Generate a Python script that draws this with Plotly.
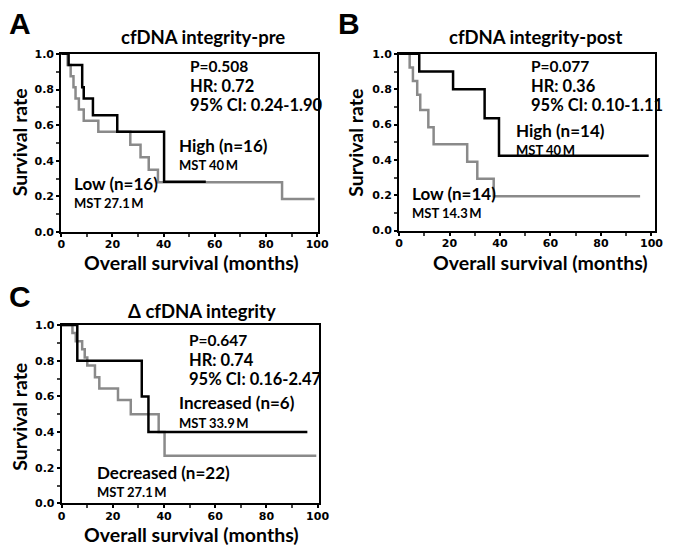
import plotly.graph_objects as go

W, H = 677, 556

# Kaplan-Meier step data (months, survival rate)
a_high_t = [0, 2.9, 8.2, 8.8, 12.4, 21.9, 40.2, 56.5]
a_high_s = [1.0, 0.9375, 0.8125, 0.75, 0.656, 0.563, 0.282, 0.282]
a_low_t = [0, 2.5, 3.7, 4.8, 5.6, 6.9, 8.8, 14.5, 27.0, 31.0, 34.2, 37.8, 86.3, 99.0]
a_low_s = [1.0, 0.9375, 0.875, 0.8125, 0.75, 0.6875, 0.625, 0.5625, 0.49, 0.42, 0.35, 0.28, 0.185, 0.185]

b_high_t = [0, 8.0, 21.4, 33.9, 39.6, 98.9]
b_high_s = [1.0, 0.9, 0.8, 0.635, 0.424, 0.424]
b_low_t = [0, 4.2, 5.5, 7.2, 8.4, 11.6, 13.7, 27.0, 31.0, 37.5, 95.5]
b_low_s = [1.0, 0.923, 0.846, 0.769, 0.683, 0.585, 0.488, 0.39, 0.293, 0.195, 0.195]

c_inc_t = [0, 6.1, 31.3, 33.9, 96.0]
c_inc_s = [1.0, 0.8, 0.6, 0.4, 0.4]
c_dec_t = [0, 4.2, 5.5, 8.0, 9.0, 10.0, 13.0, 14.7, 22.0, 27.0, 37.9, 40.2, 99.5]
c_dec_s = [1.0, 0.955, 0.909, 0.864, 0.818, 0.773, 0.708, 0.644, 0.58, 0.5, 0.4, 0.267, 0.267]

x_ticks = [0, 20, 40, 60, 80, 100]
y_ticks = [0.0, 0.2, 0.4, 0.6, 0.8, 1.0]

BLACK = "#000000"
GRAY = "#8a8a8a"
TITLE_FONT = "Lato"
TICK_FONT = "DejaVu Sans"


def px(x):
    return x / W


def py(y):
    return 1 - y / H


fig = go.Figure()

# plot areas in pixels: (left, right, top, bottom, x max)
panels = [
    ("x", "y", (58.5, 321, 49, 231.5, 100.3), [(a_high_t, a_high_s, BLACK), (a_low_t, a_low_s, GRAY)]),
    ("x2", "y2", (404, 666, 49, 230, 101.5), [(b_high_t, b_high_s, BLACK), (b_low_t, b_low_s, GRAY)]),
    ("x3", "y3", (59, 322, 326.7, 509.3, 100.5), [(c_inc_t, c_inc_s, BLACK), (c_dec_t, c_dec_s, GRAY)]),
]

layout = {}
for i, (xa, ya, (l, r, t, b, xmax), curves) in enumerate(panels):
    # grey first so black sits on top
    for tt, ss, col in reversed(curves):
        fig.add_trace(go.Scatter(x=tt, y=ss, xaxis=xa, yaxis=ya, mode="lines",
                                 line=dict(color=col, width=2.5, shape="hv"),
                                 showlegend=False, hoverinfo="skip"))
    sfx = "" if i == 0 else str(i + 1)
    layout["xaxis" + sfx] = dict(
        domain=[px(l), px(r)], range=[0, xmax], anchor=ya,
        tickvals=x_ticks, ticks="outside", ticklen=3, tickwidth=1.5, tickcolor=BLACK,
        ticklabelstandoff=-2,
        minor=dict(dtick=10, ticks="outside", ticklen=3, tickcolor="#444"),
        showline=True, linecolor=BLACK, linewidth=2, mirror=True,
        showgrid=False, zeroline=False,
        tickfont=dict(family=TICK_FONT, size=11, color=BLACK, weight="bold"),
    )
    layout["yaxis" + sfx] = dict(
        domain=[py(b), py(t)], range=[0, 1.0], anchor=xa,
        tickvals=y_ticks, tickformat=".1f", ticks="outside", ticklen=3, tickwidth=1.5,
        tickcolor=BLACK,
        minor=dict(dtick=0.1, ticks="outside", ticklen=3, tickcolor="#444"),
        showline=True, linecolor=BLACK, linewidth=2, mirror=True,
        showgrid=False, zeroline=False,
        tickfont=dict(family=TICK_FONT, size=11, color=BLACK, weight="bold"),
    )

fig.update_layout(**layout)


def note(text, x, y, size, family=TITLE_FONT, xanchor="left", angle=0):
    fig.add_annotation(text="<b>%s</b>" % text,
                       x=px(x), y=py(y), xref="paper", yref="paper",
                       xanchor=xanchor, yanchor="middle", showarrow=False, textangle=angle,
                       font=dict(family=family, size=size, color=BLACK))


# panel letters
note("A", 3, 18, 30, family="Liberation Sans")
note("B", 340, 18, 30, family="Liberation Sans")
note("C", 3, 297, 30, family="Liberation Sans")

# panel titles
note("cfDNA integrity-pre", 204, 32, 18.5, xanchor="center")
note("cfDNA integrity-post", 544, 32, 18.5, xanchor="center")
note("\u0394 cfDNA integrity", 202, 312, 18.5, xanchor="center")

# axis titles
for xc, yc in [(192, 263), (549, 263), (192, 541)]:
    note("Overall survival (months)", xc, yc, 19.5, xanchor="center")
for xc, yc in [(16, 140), (360, 140), (16, 421)]:
    note("Survival rate", xc, yc, 19.5, xanchor="center", angle=-90)

# statistics
stats = [
    (188, 61, "P=0.508", "HR: 0.72", "95% CI: 0.24-1.90"),
    (537, 61, "P=0.077", "HR: 0.36", "95% CI: 0.10-1.11"),
    (187, 341.5, "P=0.647", "HR: 0.74", "95% CI: 0.16-2.47"),
]
for x0, y0, p, hr, ci in stats:
    note(p, x0, y0, 15.5)
    note(hr, x0, y0 + 20.5, 16.5)
    note(ci, x0, y0 + 40.5, 16.5)

# group labels
groups = [
    (177, 143, "High (n=16)", "MST 40\u2009M"),
    (70, 182, "Low (n=16)", "MST 27.1\u2009M"),
    (522, 127, "High (n=14)", "MST 40\u2009M"),
    (415, 192, "Low (n=14)", "MST 14.3\u2009M"),
    (177, 406.5, "Increased (n=6)", "MST 33.9\u2009M"),
    (93, 478, "Decreased (n=22)", "MST 27.1\u2009M"),
]
for x0, y0, g, mst in groups:
    note(g, x0, y0, 17)
    note(mst, x0, y0 + 20, 13)

fig.update_layout(width=W, height=H, margin=dict(l=0, r=0, t=0, b=0),
                  paper_bgcolor="white", plot_bgcolor="white")

# drop the page's default body margin so the figure starts at the window corner
fig.write_html("out.html", config={"displayModeBar": False},
               post_script="document.body.style.margin='0';")
